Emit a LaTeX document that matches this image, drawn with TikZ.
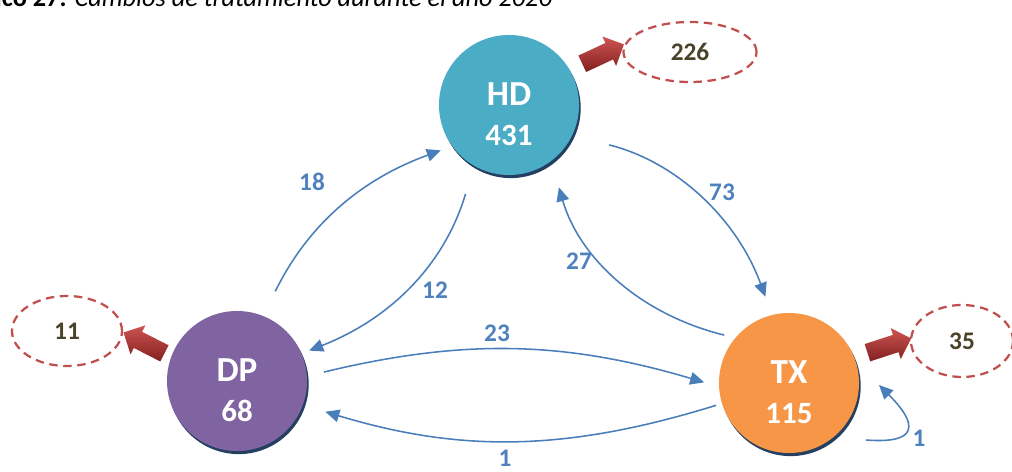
\documentclass[tikz,border=0pt]{standalone}
\usepackage{fontspec}
\setmainfont{Carlito}
\usepackage{tikz}
\usetikzlibrary{arrows.meta,shapes.geometric,shapes.arrows,shadows}

\definecolor{hdcolor}{RGB}{75,172,198}
\definecolor{dpcolor}{RGB}{128,100,162}
\definecolor{txcolor}{RGB}{247,150,70}
\definecolor{shadowblue}{RGB}{36,63,96}
\definecolor{flowblue}{RGB}{74,126,187}
\definecolor{countblue}{RGB}{79,129,189}
\definecolor{exitred}{RGB}{192,80,77}
\definecolor{exittext}{RGB}{73,68,41}
\definecolor{arrowlight}{RGB}{205,85,80}
\definecolor{arrowdark}{RGB}{130,32,32}

\begin{document}
\begin{tikzpicture}[x=0.025cm,y=0.025cm,
    state/.style={circle, minimum size=3.5cm, inner sep=0pt, fill=#1,
        drop shadow={shadow xshift=1.2pt, shadow yshift=-2.2pt, fill=shadowblue, opacity=1}},
    statetext/.style={text=white, align=center, yshift=-6.4pt, font=\fontsize{22}{28.5}\selectfont\bfseries},
    outbox/.style={ellipse, draw=exitred, dash pattern=on 6pt off 4pt, line width=1.6pt, inner sep=0pt,
        text=exittext, font=\fontsize{18}{20}\selectfont\bfseries},
    exitarrow/.style={single arrow, inner sep=0.22cm, minimum height=1.15cm,
        single arrow head extend=0.18cm, top color=arrowlight, bottom color=arrowdark, draw=none},
    flow/.style={draw=flowblue, line width=1.1pt, -{Triangle[length=10pt,width=9pt]}},
    count/.style={text=countblue, font=\fontsize{18}{20}\selectfont\bfseries}]
    \useasboundingbox (0,0) rectangle (1012,472);
    \clip (0,0) rectangle (1012,472);

    % title (cut at the top)
    \node[anchor=base east, font=\fontsize{18.7}{20}\selectfont] (title) at (557,465)
        {\textbf{Gráfico 27.} \textit{Cambios de tratamiento durante el año 2020}};

    % treatments
    \node[state=hdcolor, label={[statetext]center:{\fontsize{25}{28.5}\selectfont HD}\\431}] (HD) at (509,367) {};
    \node[state=dpcolor, label={[statetext]center:{\fontsize{25}{28.5}\selectfont DP}\\68}] (DP) at (237,91) {};
    \node[state=txcolor, label={[statetext]center:{\fontsize{25}{28.5}\selectfont TX}\\115}] (TX) at (789,89) {};

    % exits
    \node[outbox, minimum width=3.325cm, minimum height=1.5cm] (outHD) at (690,420) {226};
    \node[outbox, minimum width=2.75cm, minimum height=1.75cm] (outDP) at (67,141) {11};
    \node[outbox, minimum width=2.55cm, minimum height=1.8cm] (outTX) at (962,131) {35};
    \node[exitarrow, rotate=25] (exHD) at (599,416) {};
    \node[exitarrow, rotate=153] (exDP) at (148,127) {};
    \node[exitarrow, rotate=18] (exTX) at (885,125) {};

    % changes between treatments
    \draw[flow, shorten <=0.68cm, shorten >=0.3cm] (DP.68) to[bend left=22] (HD.216);
    \draw[flow, shorten <=0.73cm, shorten >=0.2cm] (HD.240) to[bend left=26] (DP.23);
    \draw[flow, shorten <=0.95cm, shorten >=0.48cm] (HD.334) to[bend left=28] (TX.104);
    \draw[flow, shorten <=0.28cm, shorten >=0.68cm] (TX.140) to[bend left=30] (HD.307);
    \draw[flow, shorten <=0.43cm, shorten >=0.38cm] (DP.4) to[bend left=15] (TX.183);
    \draw[flow, shorten <=0.15cm, shorten >=0.58cm] (TX.197) to[bend left=17] (DP.340);
    \coordinate (loopA) at ([shift={(77,-57)}]TX.center);
    \coordinate (loopB) at ([shift={(90,-2)}]TX.center);
    \draw[flow] (loopA) .. controls +(52,-4) and +(40,-40) .. (loopB);

    \node[count] (n18) at (312,290) {18};
    \node[count] (n12) at (435,182) {12};
    \node[count] (n73) at (722,280) {73};
    \node[count] (n27) at (579,211) {27};
    \node[count] (n23) at (497,139) {23};
    \node[count] (n1) at (505,14) {1};
    \node[count] (n1b) at (919,34) {1};
\end{tikzpicture}
\end{document}
